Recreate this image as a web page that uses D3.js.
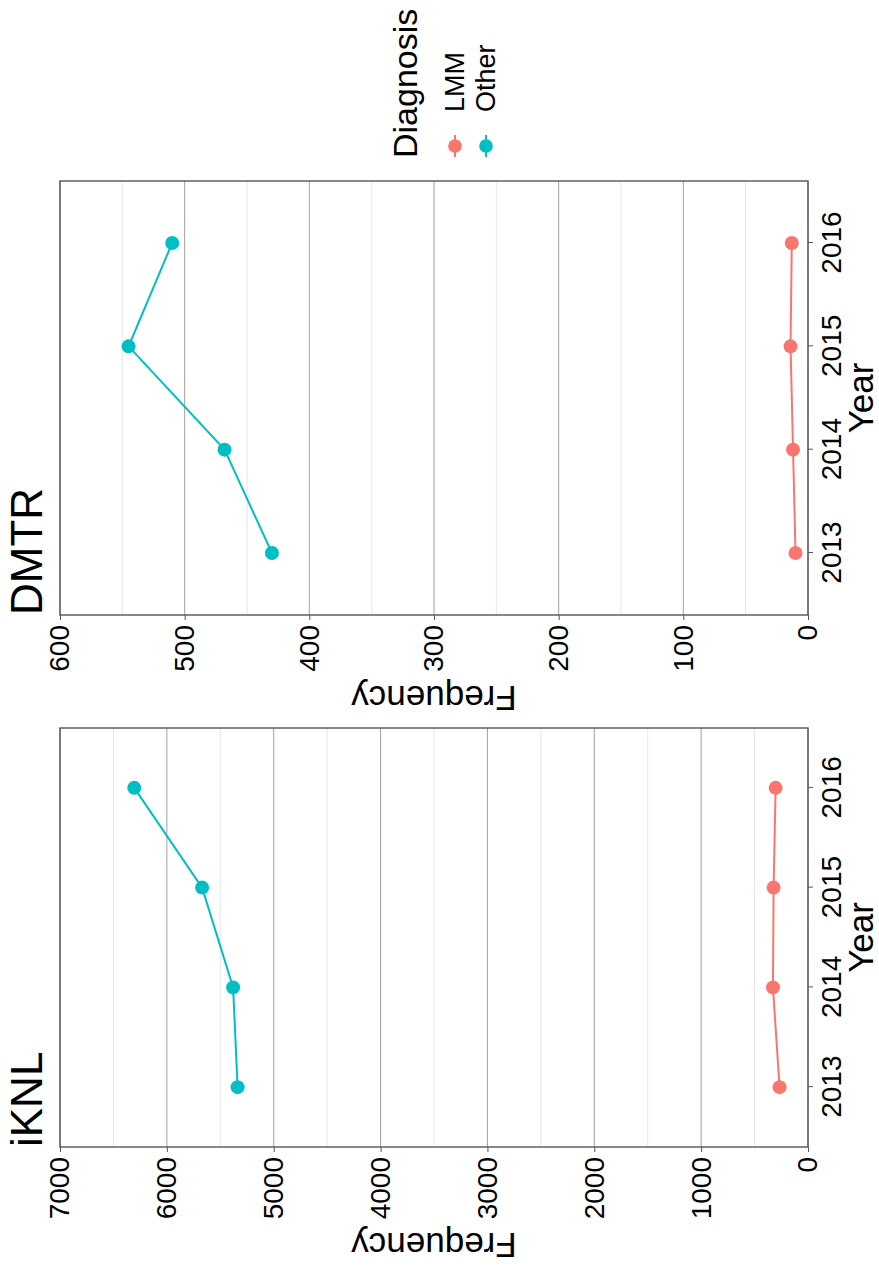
<!DOCTYPE html>
<html>
<head>
<meta charset="utf-8">
<script src="https://cdn.jsdelivr.net/npm/d3@7"></script>
<style>
  body { margin: 0; background: #fff; }
  svg { display: block; font-family: "Liberation Sans", Arial, sans-serif; }
</style>
</head>
<body>
<svg width="879" height="1267"></svg>
<script>
// 数据
var years = [2013, 2014, 2015, 2016];
var diagnoses = ["LMM", "Other"];
var iknlLMM = [266, 328, 322, 303];
var iknlOther = [5338, 5380, 5670, 6305];
var dmtrLMM = [10, 12, 14, 13];
var dmtrOther = [430, 468, 545, 510];
var iknlTicks = [0, 1000, 2000, 3000, 4000, 5000, 6000, 7000];
var dmtrTicks = [0, 100, 200, 300, 400, 500, 600];

var colors = { LMM: "#F8766D", Other: "#00BFC4" };

// 原图是横向的，整体逆时针旋转 90 度
var W = 1267, H = 879;
var svg = d3.select("svg");
var root = svg.append("g").attr("transform", "translate(0," + W + ") rotate(-90)");

var panels = [
    { title: "iKNL", left: 120, right: 539, ticks: iknlTicks, series: { LMM: iknlLMM, Other: iknlOther }, titleX: 34 },
    { title: "DMTR", left: 652, right: 1086, ticks: dmtrTicks, series: { LMM: dmtrLMM, Other: dmtrOther }, titleX: 581 }
];
var panelTop = 60, panelBottom = 808;

panels.forEach(function (p) {
    var g = root.append("g");
    var maxV = d3.max(p.ticks);
    var step = p.ticks[1] - p.ticks[0];

    var x = d3.scalePoint().domain(years).range([p.left, p.right]).padding(0.6);
    var y = d3.scaleLinear().domain([0, maxV]).range([panelBottom, panelTop]);

    // 次网格线
    var minor = d3.range(step / 2, maxV, step);
    g.selectAll(".minor").data(minor).enter().append("line")
        .attr("x1", p.left).attr("x2", p.right)
        .attr("y1", d => y(d)).attr("y2", d => y(d))
        .attr("stroke", "#e6e6e6").attr("stroke-width", 1);

    // 主网格线
    g.selectAll(".major").data(p.ticks).enter().append("line")
        .attr("x1", p.left).attr("x2", p.right)
        .attr("y1", d => y(d)).attr("y2", d => y(d))
        .attr("stroke", "#a0a0a0").attr("stroke-width", 1);

    // 边框
    g.append("rect")
        .attr("x", p.left).attr("y", panelTop)
        .attr("width", p.right - p.left).attr("height", panelBottom - panelTop)
        .attr("fill", "none").attr("stroke", "#555").attr("stroke-width", 1.4);

    // Y 轴
    var yAxis = d3.axisLeft(y).tickValues(p.ticks).tickSize(5).tickPadding(5).tickFormat(d3.format("d"));
    var ya = g.append("g").attr("transform", "translate(" + p.left + ",0)").call(yAxis);
    ya.select(".domain").remove();
    ya.selectAll("line").attr("stroke", "#555");
    ya.selectAll("text").attr("font-size", 28).attr("fill", "#000");

    // X 轴
    var xAxis = d3.axisBottom(x).tickSize(5).tickPadding(8);
    var xa = g.append("g").attr("transform", "translate(0," + panelBottom + ")").call(xAxis);
    xa.select(".domain").remove();
    xa.selectAll("line").attr("stroke", "#555");
    xa.selectAll("text").attr("font-size", 28).attr("fill", "#000");

    // 折线和点
    diagnoses.forEach(function (k) {
        var vals = p.series[k];
        var line = d3.line().x((d, i) => x(years[i])).y(d => y(d));
        g.append("path").datum(vals)
            .attr("d", line)
            .attr("fill", "none")
            .attr("stroke", colors[k])
            .attr("stroke-width", 2);
        g.selectAll(".pt" + k).data(vals).enter().append("circle")
            .attr("cx", (d, i) => x(years[i]))
            .attr("cy", d => y(d))
            .attr("r", 7)
            .attr("fill", colors[k]);
    });

    // 标题
    g.append("text")
        .attr("x", p.left).attr("y", 42)
        .attr("font-size", 44)
        .text(p.title);

    g.append("text")
        .attr("x", (p.left + p.right) / 2).attr("y", 873)
        .attr("text-anchor", "middle")
        .attr("font-size", 35)
        .text("Year");

    g.append("text")
        .attr("transform", "translate(" + p.titleX + "," + ((panelTop + panelBottom) / 2) + ") rotate(-90)")
        .attr("text-anchor", "middle")
        .attr("font-size", 35)
        .text("Frequency");
});

// 图例
var legend = root.append("g");
legend.append("text")
    .attr("x", 1109).attr("y", 417)
    .attr("font-size", 34)
    .text("Diagnosis");

var ly = d3.scalePoint().domain(diagnoses).range([455, 486]);
diagnoses.forEach(function (k) {
    legend.append("line")
        .attr("x1", 1110).attr("x2", 1132)
        .attr("y1", ly(k)).attr("y2", ly(k))
        .attr("stroke", colors[k]).attr("stroke-width", 2);
    legend.append("circle")
        .attr("cx", 1121).attr("cy", ly(k)).attr("r", 6.8)
        .attr("fill", colors[k]);
    legend.append("text")
        .attr("x", 1155).attr("y", ly(k))
        .attr("dy", "0.35em")
        .attr("font-size", 27)
        .text(k);
});
</script>
</body>
</html>
